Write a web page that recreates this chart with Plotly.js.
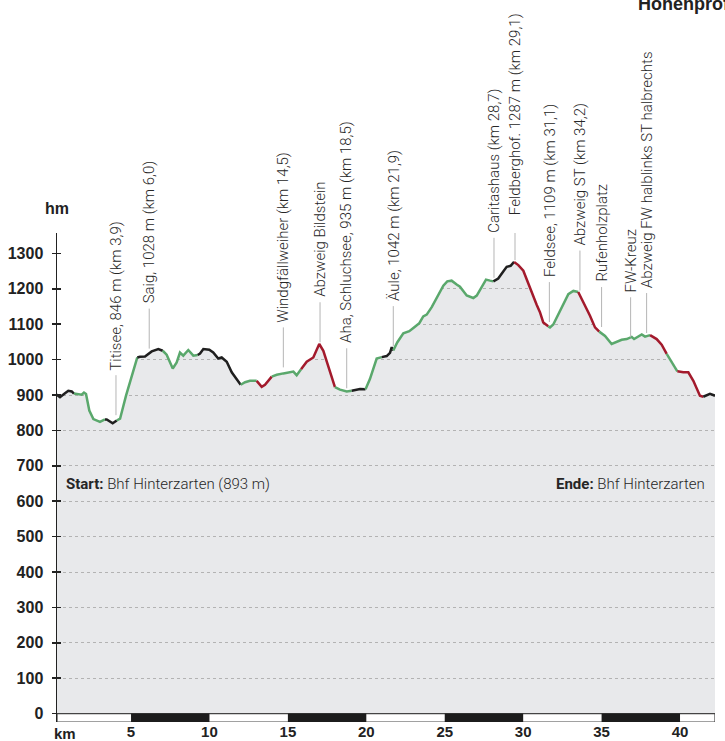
<!DOCTYPE html>
<html><head><meta charset="utf-8">
<script src="https://cdn.plot.ly/plotly-3.0.1.min.js"></script>
<style>html,body{margin:0;padding:0;background:#fff}#chart{width:725px;height:741px}</style>
</head><body><div id="chart"></div>
<script>
// ---- data ----
const km = [0.22,0.47,0.79,1.00,1.22,1.36,1.64,1.85,2.00,2.13,
  2.34,2.60,3.02,3.34,3.45,3.83,4.09,4.30,4.68,5.04,
  5.40,5.57,5.89,6.32,6.74,7.02,7.27,7.66,7.91,8.12,
  8.33,8.65,8.97,9.25,9.40,9.61,9.99,10.24,10.56,10.78,
  11.10,11.42,11.78,11.99,12.27,12.58,13.01,13.33,13.54,13.97,
  14.29,14.71,15.35,15.56,15.84,16.20,16.62,17.00,17.26,17.68,
  18.00,18.32,18.75,19.07,19.60,19.95,20.23,20.66,20.98,21.30,
  21.51,21.62,21.72,21.98,22.36,22.74,23.10,23.38,23.63,23.85,
  24.17,24.59,24.91,25.16,25.44,25.76,25.97,26.40,26.82,27.04,
  27.29,27.63,27.89,28.10,28.41,28.73,28.95,29.20,29.42,29.69,
  30.01,30.29,30.54,30.86,31.07,31.28,31.60,31.71,31.92,32.24,
  32.56,32.88,33.20,33.51,33.83,34.26,34.58,34.85,35.22,35.64,
  35.96,36.28,36.60,36.92,37.07,37.34,37.56,37.77,38.09,38.51,
  38.83,39.15,39.47,39.83,40.21,40.53,40.85,41.27,41.48,41.91,
  42.23];
const elev = [902,894,905,912,910,904,903,901,907,903,
  856,832,824,831,831,820,828,833,898,950,
  1006,1008,1009,1023,1030,1025,1014,975,992,1020,
  1011,1027,1011,1013,1017,1030,1028,1020,1003,1006,
  994,964,942,929,936,940,940,923,929,952,
  957,961,966,956,973,994,1006,1044,1025,969,
  922,915,910,912,917,916,945,1003,1007,1010,
  1019,1035,1026,1049,1074,1080,1093,1103,1122,1127,
  1148,1181,1209,1221,1223,1212,1206,1181,1174,1181,
  1199,1226,1223,1221,1229,1249,1262,1265,1276,1267,
  1251,1218,1190,1155,1134,1105,1094,1091,1099,1127,
  1157,1185,1194,1191,1164,1124,1091,1079,1067,1044,
  1049,1056,1058,1064,1058,1065,1071,1065,1069,1058,
  1042,1016,994,967,964,964,940,898,895,903,
  898];
// colour of the segments, as runs: [number of segments, surface code]
const segRuns = [[5,'b'],[8,'g'],[3,'b'],[4,'g'],[5,'b'],[8,'g'],[10,'b'],[3,'g'],[3,'r'],[5,'g'],
  [6,'r'],[3,'g'],[2,'b'],[3,'g'],[4,'b'],[21,'g'],[5,'b'],[8,'r'],[7,'g'],[4,'r'],
  [11,'g'],[3,'r'],[2,'g'],[5,'r'],[2,'b']];

const labelText = ['Titisee, 846 m (km 3,9)','Saig, 1028 m (km 6,0)','Windgfällweiher (km 14,5)',
  'Abzweig Bildstein','Aha, Schluchsee, 935 m (km 18,5)','Äule, 1042 m (km 21,9)',
  'Caritashaus (km 28,7)','Feldberghof. 1287 m (km 29,1)','Feldsee, 1109 m (km 31,1)',
  'Abzweig ST (km 34,2)','Rufenholzplatz','FW-Kreuz','Abzweig FW halblinks ST halbrechts',
  'Bhf Hinterzarten (km 43,0)'];
const labelKm = [4.04,6.16,14.71,17.05,18.75,21.72,28.14,29.48,31.67,33.62,35.00,36.85,37.87,42.29];
const labelElev = [843,1031,978,1049,919,1038,1231,1281,1106,1195,1092,1063,1075,899];

const xTicks = [5,10,15,20,25,30,35,40];
const yTicks = [0,100,200,300,400,500,600,700,800,900,1000,1100,1200,1300];
const scaleBlocks = [5,15,25,35];   // black blocks of the km scale bar (5 km each)
const blockLen = 5;

// ---- styling ----
const X_RANGE = [0.28, 42.23];
const Y_RANGE = [-23.7, 1357.6];
const COLORS = {g:'#5aa86c', b:'#1f1f1f', r:'#a31a2c'};
const TICKFONT = {family:'Liberation Sans Narrow, Arial Narrow, sans-serif', size:16, color:'#222', weight:700};
const XTICKFONT = {family:'Liberation Sans Narrow, Arial Narrow, sans-serif', size:15, color:'#222', weight:700};
const TEXTFONT = {family:'Roboto, Liberation Sans, sans-serif', size:15, color:'#262626', weight:300};

// expand colour runs
const seg = [null];
segRuns.forEach(([n,c]) => { for (let i=0;i<n;i++) seg.push(c); });

const traces = [];
// white mask above the profile (background below the profile is grey)
traces.push({x:[km[0], km[km.length-1]], y:[Y_RANGE[1], Y_RANGE[1]], mode:'lines',
  line:{width:0}, hoverinfo:'skip', showlegend:false});
traces.push({x:km, y:elev, mode:'lines', line:{width:0}, fill:'tonexty', fillcolor:'#ffffff',
  hoverinfo:'skip', showlegend:false});

// coloured line runs
let runStart = 0;
for (let i=1;i<km.length;i++){
  const last = (i === km.length-1) || seg[i+1] !== seg[i];
  if (last){
    traces.push({x:km.slice(runStart, i+1), y:elev.slice(runStart, i+1), mode:'lines',
      line:{color:COLORS[seg[i]], width:2.5}, hoverinfo:'skip', showlegend:false});
    runStart = i;
  }
}
// dummy trace for overlay axis (inner ticks)
traces.push({x:[null], y:[null], yaxis:'y2', mode:'lines', showlegend:false, hoverinfo:'skip'});

const shapes = [];
// leader lines
labelKm.forEach((k,i) => shapes.push({type:'line', xref:'x', yref:'y', x0:k, x1:k,
  ysizemode:'pixel', yanchor:labelElev[i], y0:0, y1:40, line:{color:'#b5b5b5', width:1}}));
// km scale bar
shapes.push({type:'rect', xref:'x', yref:'y', x0:X_RANGE[0], x1:X_RANGE[1], y0:Y_RANGE[0], y1:0,
  fillcolor:'#ffffff', line:{color:'#444', width:1.2}});
scaleBlocks.forEach(s => shapes.push({type:'rect', xref:'x', yref:'y', x0:s, x1:s+blockLen,
  y0:Y_RANGE[0], y1:0, fillcolor:'#1c1c1c', line:{width:0}}));

const annotations = labelText.map((t,i) => ({text:t, x:labelKm[i], y:labelElev[i], xref:'x', yref:'y',
  yshift:43, textangle:-90, xanchor:'center', yanchor:'bottom', showarrow:false, font:TEXTFONT}));
annotations.push({text:'<b>Start:</b> Bhf Hinterzarten (893 m)', x:0.72, y:648, xref:'x', yref:'y',
  xanchor:'left', yanchor:'middle', showarrow:false, font:TEXTFONT});
annotations.push({text:'<b>Ende:</b> Bhf Hinterzarten', x:41.75, y:648, xref:'x', yref:'y',
  xanchor:'right', yanchor:'middle', showarrow:false, font:TEXTFONT});
annotations.push({text:'hm', x:0, y:1.051, xref:'paper', yref:'paper', xanchor:'center', yanchor:'middle',
  showarrow:false, font:TICKFONT});
annotations.push({text:'km', x:0.012, y:-0.0225, xref:'paper', yref:'paper', xanchor:'center', yanchor:'middle',
  showarrow:false, font:XTICKFONT});
annotations.push({text:'Höhenprofil', x:0.88, y:1.443, xref:'paper', yref:'paper', xanchor:'left', yanchor:'bottom',
  showarrow:false, font:{family:'Liberation Sans Narrow, sans-serif', size:18, color:'#222', weight:700}});

const layout = {
  width:725, height:741,
  margin:{l:57, r:10, t:233, b:19, pad:0},
  paper_bgcolor:'#ffffff', plot_bgcolor:'#e8e9eb',
  showlegend:false,
  xaxis:{range:X_RANGE, tickvals:xTicks, ticktext:xTicks.map(String), ticks:'', showgrid:false,
    zeroline:false, showline:false, tickfont:XTICKFONT, ticklabelstandoff:-1, fixedrange:true},
  yaxis:{range:Y_RANGE, tickvals:yTicks, ticktext:yTicks.map(String), ticks:'outside', ticklen:4,
    tickwidth:1.5, tickcolor:'#222', showline:true, linecolor:'#222', linewidth:1.5,
    showgrid:true, gridcolor:'#b3b3b3', griddash:'dot', gridwidth:1, zeroline:false,
    tickfont:TICKFONT, ticklabelstandoff:5, fixedrange:true},
  yaxis2:{range:Y_RANGE, overlaying:'y', side:'left', tickvals:yTicks, ticks:'inside', ticklen:4,
    tickwidth:1.5, tickcolor:'#222', showticklabels:false, showgrid:false, zeroline:false, showline:false,
    fixedrange:true},
  shapes:shapes, annotations:annotations
};
Plotly.newPlot('chart', traces, layout, {staticPlot:true, displayModeBar:false});
</script></body></html>
